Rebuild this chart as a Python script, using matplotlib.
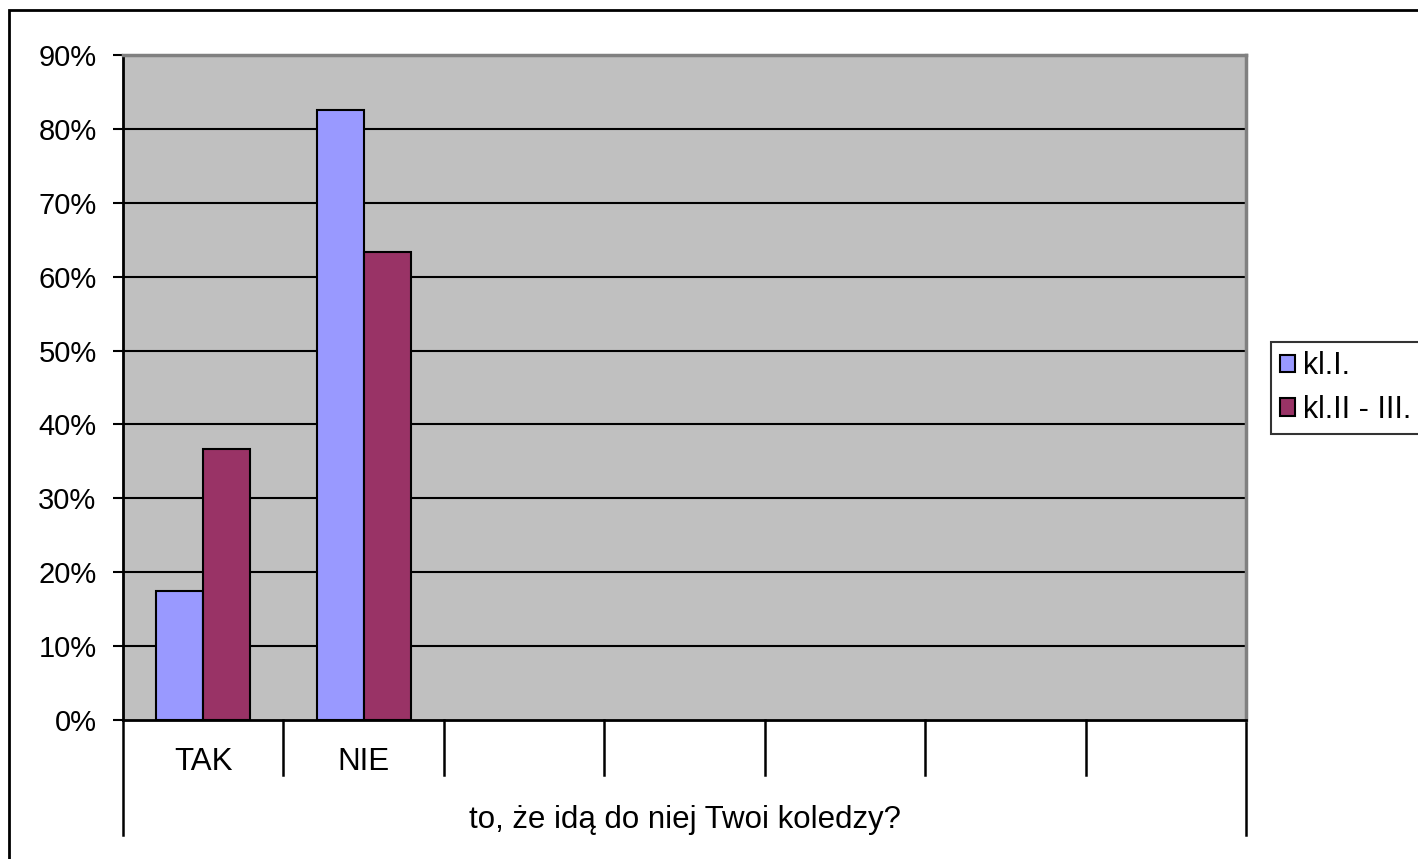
import matplotlib.pyplot as plt
import matplotlib.patches as patches
import numpy as np

plt.rcParams['font.family'] = ['Liberation Sans', 'DejaVu Sans']

# dane z wykresu
categories = ["TAK", "NIE"]
n_slots = 7
group_label = "to, że idą do niej Twoi koledzy?"
series_names = ["kl.I.", "kl.II - III."]
kl_1 = [0.174, 0.826]
kl_2_3 = [0.367, 0.633]
colors = ["#9999FF", "#993366"]

fig = plt.figure(figsize=(14.18, 8.59), dpi=100)
ax = fig.add_axes([123 / 1418, 1 - 720 / 859, (1246 - 123) / 1418, (720 - 55) / 859])
ax.set_facecolor("#C0C0C0")

# słupki
w = 0.293
x = np.arange(len(categories)) + 0.5
ax.bar(x - w / 2, kl_1, w, color=colors[0], edgecolor="black", linewidth=1.5,
       label=series_names[0], zorder=3)
ax.bar(x + w / 2, kl_2_3, w, color=colors[1], edgecolor="black", linewidth=1.5,
       label=series_names[1], zorder=3)

ax.set_xlim(0, n_slots)
ax.set_ylim(0, 0.9)
yt = np.arange(0, 0.91, 0.1)
ax.set_yticks(yt)
ax.set_yticklabels([f"{round(v * 100)}%" for v in yt], fontsize=21)
ax.tick_params(axis="y", length=7, width=1.5, pad=12)
ax.set_xticks([])
for v in yt[1:-1]:
    ax.axhline(v, color="black", linewidth=1.5, zorder=1)

for s in ["left", "bottom"]:
    ax.spines[s].set_color("black")
    ax.spines[s].set_linewidth(2)
for s in ["top", "right"]:
    ax.spines[s].set_color("#808080")
    ax.spines[s].set_linewidth(2.5)

# linie podziału kategorii pod osią
trans = ax.get_xaxis_transform()
for i in range(n_slots + 1):
    low = -0.173 if i in (0, n_slots) else -0.083
    ax.plot([i, i], [0, low], color="black", linewidth=1.8, transform=trans, clip_on=False)
for xi, c in zip(x, categories):
    ax.text(xi, -0.063, c, transform=trans, ha="center", va="center", fontsize=22.5)
ax.text(n_slots / 2, -0.150, group_label, transform=trans, ha="center", va="center",
        fontsize=22.5)

# legenda
leg = fig.legend(loc="upper left", bbox_to_anchor=(1271 / 1418, 1 - 342 / 859),
                 fontsize=22, frameon=True, fancybox=False, edgecolor="black",
                 handlelength=0.5, handleheight=0.5, handletextpad=0.25,
                 borderpad=0.3, labelspacing=0.45, borderaxespad=0)
leg.get_frame().set_linewidth(1.5)

# ramka wykresu
fig.add_artist(patches.Rectangle((9 / 1418, -0.1), 1.2, 1 - 10 / 859 + 0.1,
                                 transform=fig.transFigure, fill=False,
                                 edgecolor="black", linewidth=2))

fig.savefig("out.png", dpi=100)
